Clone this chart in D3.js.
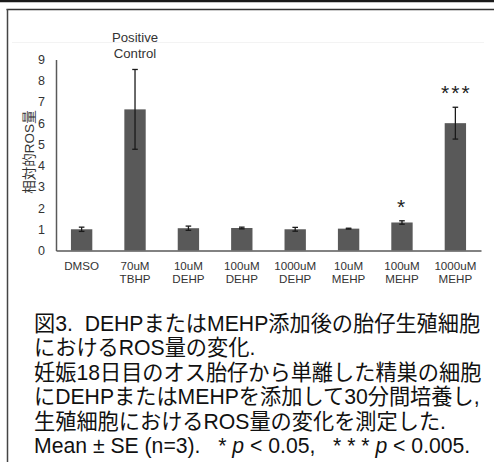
<!DOCTYPE html>
<html>
<head>
<meta charset="utf-8">
<script src="https://cdn.jsdelivr.net/npm/d3@7"></script>
<style>
  html, body { margin: 0; padding: 0; background: #fff; }
  svg { display: block; }
</style>
</head>
<body>
<svg id="chart"></svg>
<script>
// data
const categories = [
  ["DMSO"],
  ["70uM", "TBHP"],
  ["10uM", "DEHP"],
  ["100uM", "DEHP"],
  ["1000uM", "DEHP"],
  ["10uM", "MEHP"],
  ["100uM", "MEHP"],
  ["1000uM", "MEHP"]
];
const means = [1.0, 6.65, 1.05, 1.06, 1.0, 1.03, 1.32, 6.0];
const errors = [0.1, 1.88, 0.1, 0.04, 0.09, 0.02, 0.08, 0.75];
const marks = ["", "", "", "", "", "", "*", "***"];
const yTicks = [0, 1, 2, 3, 4, 5, 6, 7, 8, 9];
const yTitle = "相対的ROS量";
const noteLines = ["Positive", "Control"];
const NB = "\u00A0";
const captionLines = [
  "図3." + NB + NB + "DEHPまたはMEHP添加後の胎仔生殖細胞",
  "におけるROS量の変化.",
  "妊娠18日目のオス胎仔から単離した精巣の細胞",
  "にDEHPまたはMEHPを添加して30分間培養し,",
  "生殖細胞におけるROS量の変化を測定した."
];

const W = 494, H = 462;
const svg = d3.select("#chart").attr("width", W).attr("height", H);
svg.append("rect").attr("width", W).attr("height", H).attr("fill", "#fff");

// frame lines
svg.append("line").attr("x1", 0).attr("x2", W).attr("y1", 1).attr("y2", 1)
  .attr("stroke", "#1a1a1a").attr("stroke-width", 2.5);
svg.append("line").attr("x1", 6.5).attr("x2", W).attr("y1", 9.5).attr("y2", 9.5)
  .attr("stroke", "#333").attr("stroke-width", 1.6);
svg.append("line").attr("x1", 7.5).attr("x2", 7.5).attr("y1", 9).attr("y2", H)
  .attr("stroke", "#444").attr("stroke-width", 1.5);
svg.append("line").attr("x1", 12).attr("x2", 484).attr("y1", 42.5).attr("y2", 42.5)
  .attr("stroke", "#f3f3f3").attr("stroke-width", 1);

const plotL = 56, plotR = 481, plotT = 59.5, plotB = 250.5;

const x = d3.scaleBand()
  .domain(d3.range(categories.length))
  .range([plotL, plotR])
  .paddingInner(0.6)
  .paddingOuter(0.28);

const y = d3.scaleLinear().domain([0, 9]).range([plotB, plotT]);

const g = svg.append("g");

// bars
g.selectAll("rect.bar")
  .data(means)
  .enter()
  .append("rect")
  .attr("class", "bar")
  .attr("x", (d, i) => x(i))
  .attr("y", d => y(d))
  .attr("width", x.bandwidth())
  .attr("height", d => plotB - y(d))
  .attr("fill", "#595959");

// error bars
const eb = g.selectAll("g.err")
  .data(means)
  .enter()
  .append("g")
  .attr("class", "err")
  .attr("transform", (d, i) => `translate(${x(i) + x.bandwidth() / 2},0)`);
eb.append("line")
  .attr("y1", (d, i) => y(d - errors[i]))
  .attr("y2", (d, i) => y(d + errors[i]))
  .attr("stroke", "#1a1a1a").attr("stroke-width", 1.3);
eb.append("line")
  .attr("x1", -2.8).attr("x2", 2.8)
  .attr("y1", (d, i) => y(d + errors[i])).attr("y2", (d, i) => y(d + errors[i]))
  .attr("stroke", "#1a1a1a").attr("stroke-width", 1.3);
eb.append("line")
  .attr("x1", -2.8).attr("x2", 2.8)
  .attr("y1", (d, i) => y(d - errors[i])).attr("y2", (d, i) => y(d - errors[i]))
  .attr("stroke", "#1a1a1a").attr("stroke-width", 1.3);

// significance stars
eb.append("text")
  .attr("x", (d, i) => marks[i].length > 1 ? 1 : 0)
  .attr("y", (d, i) => y(d + errors[i]) - 7)
  .attr("text-anchor", "middle")
  .attr("font-family", "Liberation Sans, Arial, sans-serif")
  .attr("font-size", 21)
  .attr("letter-spacing", 2)
  .attr("fill", "#222")
  .text((d, i) => marks[i]);

// y axis
const yAxis = g.append("g")
  .attr("transform", `translate(${plotL},0)`)
  .call(d3.axisLeft(y).tickValues(yTicks).tickSize(0).tickPadding(11).tickFormat(d3.format("d")));
yAxis.select(".domain").attr("stroke", "#595959").attr("stroke-width", 1.5);
yAxis.selectAll("text")
  .attr("font-family", "Liberation Sans, Arial, sans-serif")
  .attr("font-size", 12.5).attr("fill", "#333");

// x axis, two-line category labels
const xAxis = g.append("g")
  .attr("transform", `translate(0,${plotB})`)
  .call(d3.axisBottom(x).tickSize(0).tickFormat(""));
xAxis.select(".domain").attr("stroke", "#595959").attr("stroke-width", 1.5);
xAxis.selectAll(".tick").each(function (i) {
  const t = d3.select(this).append("text")
    .attr("text-anchor", "middle")
    .attr("font-family", "Liberation Sans, Arial, sans-serif")
    .attr("font-size", 11.6)
    .attr("fill", "#333");
  categories[i].forEach((s, k) => {
    t.append("tspan").attr("x", 0).attr("y", 19.5 + k * 13.2).text(s);
  });
});

// positive control note
const note = g.append("text")
  .attr("text-anchor", "middle")
  .attr("font-family", "Liberation Sans, Arial, sans-serif")
  .attr("font-size", 13.2)
  .attr("fill", "#333");
noteLines.forEach((s, k) => {
  note.append("tspan").attr("x", x(1) + x.bandwidth() / 2).attr("y", 42 + k * 15.5).text(s);
});

// y title
g.append("text")
  .attr("transform", "translate(29,152) rotate(-90)")
  .attr("text-anchor", "middle")
  .attr("dominant-baseline", "central")
  .attr("font-family", "Liberation Sans, Noto Sans CJK JP, sans-serif")
  .attr("font-size", 13.5)
  .attr("fill", "#333")
  .text(yTitle);

// caption
const cap = svg.append("g")
  .attr("font-family", "Liberation Sans, Noto Sans CJK JP, sans-serif")
  .attr("font-size", 21.2)
  .attr("fill", "#111");
captionLines.forEach((s, k) => {
  cap.append("text").attr("x", 34).attr("y", 331 + k * 24.4).text(s);
});
const last = cap.append("text").attr("x", 34).attr("y", 331 + 5 * 24.4);
last.append("tspan").text("Mean ± SE (n=3)." + NB + NB + NB + "* ");
last.append("tspan").attr("font-style", "italic").text("p");
last.append("tspan").text(" < 0.05," + NB + NB + NB + "* * * ");
last.append("tspan").attr("font-style", "italic").text("p");
last.append("tspan").text(" < 0.005.");
</script>
</body>
</html>
